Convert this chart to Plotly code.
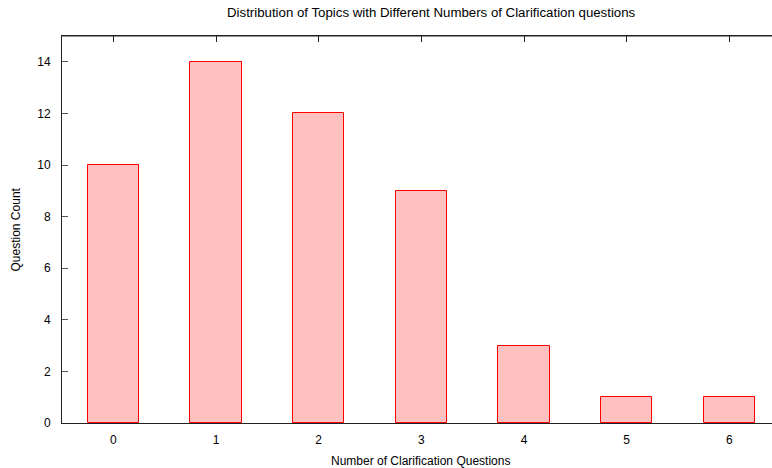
import plotly.graph_objects as go

categories = [0, 1, 2, 3, 4, 5, 6]
question_counts = [10, 14, 12, 9, 3, 1, 1]
y_ticks = [0, 2, 4, 6, 8, 10, 12, 14]

FONT = "Liberation Sans, Arial, sans-serif"
PLOT_W = 710  # plot area width in px (772 - 62)

fig = go.Figure()
fig.add_trace(go.Bar(
    x=categories, y=question_counts, width=0.5,
    marker=dict(color="rgb(255,192,192)", line=dict(color="rgb(255,0,0)", width=1)),
    showlegend=False, hoverinfo="x+y",
))
# invisible trace to anchor the mirrored top axis
fig.add_trace(go.Scatter(x=categories, y=question_counts, xaxis="x2", mode="markers",
                         marker=dict(opacity=0), showlegend=False, hoverinfo="skip"))

fig.update_layout(
    width=772, height=468,
    margin=dict(l=62, r=0, t=36, b=45),
    paper_bgcolor="white", plot_bgcolor="white",
    font=dict(family=FONT, size=12, color="black"),
    bargap=0,
    xaxis=dict(range=[-0.5, 6.415], tickvals=categories, ticktext=[str(c) for c in categories],
               ticks="", showline=True, linecolor="#222", linewidth=1, mirror=False,
               showgrid=False, zeroline=False, automargin=False, ticklabelstandoff=6,
               tickfont=dict(family=FONT, size=12)),
    xaxis2=dict(overlaying="x", side="top", range=[-0.5, 6.415], tickvals=categories,
                ticks="inside", ticklen=6, tickcolor="#222", showticklabels=False,
                showline=True, linecolor="#222", linewidth=1,
                showgrid=False, zeroline=False, automargin=False),
    yaxis=dict(range=[0, 15], tickvals=y_ticks, ticks="inside", ticklen=6, tickcolor="#555",
               showline=True, linecolor="#222", linewidth=1, mirror=False,
               showgrid=False, zeroline=False, automargin=False, ticklabelstandoff=8,
               tickfont=dict(family=FONT, size=12)),
    shapes=[
        dict(type="line", xref="paper", yref="paper", x0=0, x1=1, y0=1, y1=1,
             line=dict(color="#222", width=1), layer="above"),
    ],
    annotations=[
        dict(text="Distribution of Topics with Different Numbers of Clarification questions",
             xref="paper", yref="paper", x=(431 - 62) / PLOT_W, y=1, yshift=24,
             xanchor="center", yanchor="middle", showarrow=False,
             font=dict(family=FONT, size=13.25)),
        dict(text="Number of Clarification Questions", xref="paper", yref="paper",
             x=(420 - 62) / PLOT_W, y=0, yshift=-38, xanchor="center", yanchor="middle",
             showarrow=False, font=dict(family=FONT, size=12)),
        dict(text="Question Count", xref="paper", yref="paper", x=0, xshift=-47,
             y=0.5, xanchor="center", yanchor="middle", textangle=-90,
             showarrow=False, font=dict(family=FONT, size=12)),
    ],
)

fig.write_html("out.html", config={"displayModeBar": False},
               post_script="document.body.style.margin='0';")
